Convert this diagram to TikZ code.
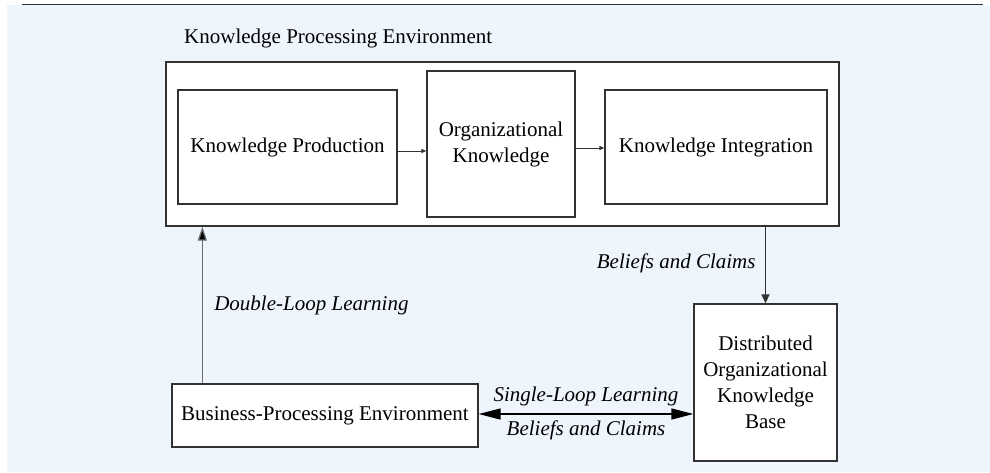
\documentclass[tikz,border=0pt]{standalone}
\usepackage{fontspec}
\setmainfont{Liberation Serif}
\usepackage{tikz}
\usetikzlibrary{arrows.meta}
\definecolor{paleblue}{RGB}{238,245,253}
\definecolor{linegray}{RGB}{50,50,50}
\definecolor{loopgray}{RGB}{110,110,110}

\begin{document}
\begin{tikzpicture}[x=1pt, y=-1pt, font=\fontsize{21}{26}\selectfont, box/.style={draw=linegray, fill=white, line width=1.3pt, align=center, inner sep=0pt}, n/.style={-{Triangle[length=5pt, width=4pt]}, line width=1pt, draw=linegray}, big/.style={-{Triangle[length=14pt, width=9pt]}, line width=1.3pt, draw=linegray}, both/.style={{Triangle[length=22pt, width=11pt]}-{Triangle[length=22pt, width=11pt]}, line width=1.5pt, draw=black}, lbl/.style={font=\fontsize{21}{26}\selectfont\itshape}]
        \useasboundingbox (0,0) rectangle (990,472);
        \fill[paleblue] (7,5) rectangle (990,472);
        \draw[linegray, line width=1.3pt] (22,4.5) -- (983,4.5);
        % nodes
        \node[anchor=west, inner sep=0pt] (title) at (184,38) {Knowledge Processing Environment};
        \node[box, minimum width=673pt, minimum height=164pt] (env) at (502.5,144) {};
        \node[box, minimum width=219pt, minimum height=114pt] (prod) at (287.5,147) {Knowledge Production};
        \node[box, minimum width=148pt, minimum height=146pt] (org) at (501,144) {Organizational\\Knowledge};
        \node[box, minimum width=222pt, minimum height=114pt] (integ) at (716,147) {Knowledge Integration};
        \node[box, minimum width=143pt, minimum height=157pt] (base) at (765.5,382.5) {Distributed\\Organizational\\Knowledge\\Base};
        \node[box, minimum width=306pt, minimum height=63pt] (bpe) at (325,415.5) {Business-Processing Environment};
        \coordinate (loop) at ([xshift=31pt]bpe.north west);
        % edges
        \draw [n] ([yshift=-4pt]prod.east) -- ([yshift=-4pt]prod.east -| org.west);
        \draw [n] ([yshift=-4pt]org.east) -- ([yshift=-4pt]org.east -| integ.west);
        \draw [big, -{Triangle[length=9pt, width=8pt]}] (env.south -| base.north) -- node[lbl, left, xshift=-6pt, yshift=2pt] {Beliefs and Claims} (base.north);
        \draw [big, draw=loopgray, -{Triangle[length=14pt, width=9pt, fill=black]}] (loop) -- node[lbl, right, xshift=8pt] {Double-Loop Learning} (loop |- env.south);
        \draw [both] ([yshift=1.5pt]bpe.east) -- node[lbl, above, yshift=4pt] {Single-Loop Learning} node[lbl, below, yshift=-3pt] {Beliefs and Claims} ([yshift=1.5pt]bpe.east -| base.west);
    \end{tikzpicture}
\end{document}
